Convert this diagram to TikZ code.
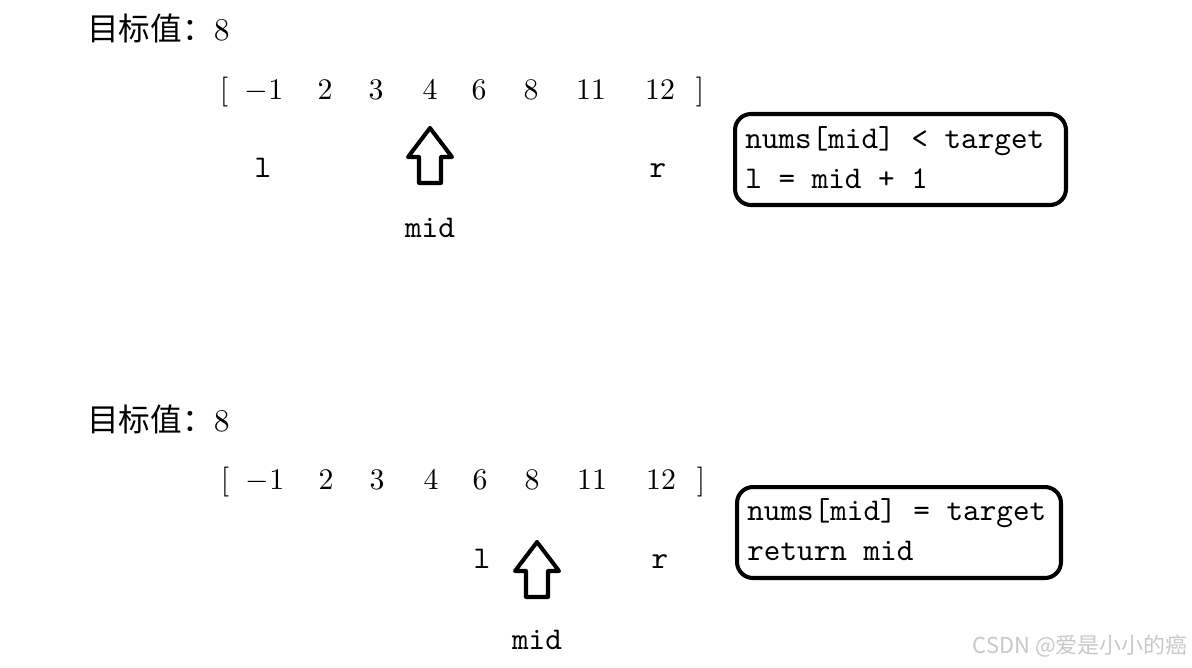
\documentclass[tikz,border=0pt]{standalone}
\usepackage{fontspec}
\newfontfamily\cjk{Noto Sans CJK SC}
\newfontfamily\digitfont{lmroman10-regular}[Extension=.otf]
\newfontfamily\codefont{lmmono10-regular}[Extension=.otf]
\usetikzlibrary{positioning}
\definecolor{wmgray}{RGB}{200,200,200}

\begin{document}
\begin{tikzpicture}[x=0.02cm, y=-0.02cm,
  num/.style={font=\fontsize{17}{20}\digitfont, anchor=base, inner sep=0pt},
  ptr/.style={font=\fontsize{18}{20}\codefont, anchor=base, inner sep=0pt},
  goal/.style={font=\fontsize{18}{20}\digitfont, anchor=base west, inner sep=0pt},
  note/.style={draw, line width=2.3pt, rounded corners=0.32cm, minimum height=1.82cm, inner sep=0pt},
  code/.style={font=\fontsize{18}{20}\codefont, anchor=base west, inner sep=0pt},
  uparrow/.pic={\draw[line width=2.3pt, line join=round] (0,0) -- (22,29) -- (11,29) -- (11,55)
      -- (-11,55) -- (-11,29) -- (-22,29) -- cycle;}]
  \useasboundingbox (0,0) rectangle (1192,667);
  % first step: nums[mid] < target
  \node[goal] (goal1) at (87,40) {{\cjk 目标值：}8};
  \node[num] (lb1) at (224,99) {[};
  \foreach \v/\px [count=\i] in {$-$1/264, 2/325, 3/376, 4/430, 6/479, 8/531, 11/591, 12/660}
    \node[num] (a\i) at (\px,99) {\v};
  \node[num] (rb1) at (700,99) {]};
  \node[ptr] (l1) at (263,177) {l};
  \node[ptr] (r1) at (658,177) {r};
  \coordinate (tip1) at (430,128);
  \pic at (tip1) {uparrow};
  \node[ptr] (mid1) at (430,237) {mid};
  \node[note, minimum width=6.62cm] (box1) at (900.5,159.5) {};
  \node[code] (c1a) at (745,148) {nums[mid] < target};
  \node[code] (c1b) at (745,188) {l = mid + 1};
  % second step: nums[mid] = target
  \node[goal] (goal2) at (87,431) {{\cjk 目标值：}8};
  \node[num] (lb2) at (225,489) {[};
  \foreach \v/\px [count=\i] in {$-$1/265, 2/326, 3/377, 4/431, 6/480, 8/532, 11/592, 12/661}
    \node[num] (b\i) at (\px,489) {\v};
  \node[num] (rb2) at (701,489) {]};
  \node[ptr] (l2) at (482,568) {l};
  \node[ptr] (r2) at (660,568) {r};
  \coordinate (tip2) at (537,542);
  \pic at (tip2) {uparrow};
  \node[ptr] (mid2) at (537,649) {mid};
  \node[note, minimum width=6.48cm] (box2) at (899,532.5) {};
  \node[code] (c2a) at (747,520) {nums[mid] = target};
  \node[code] (c2b) at (747,560) {return mid};
  % watermark
  \node[font=\cjk\fontsize{12.5}{14}\selectfont, text=wmgray, anchor=east, inner sep=0pt] (wm) at (1188,646) {CSDN @爱是小小的癌};
\end{tikzpicture}
\end{document}
